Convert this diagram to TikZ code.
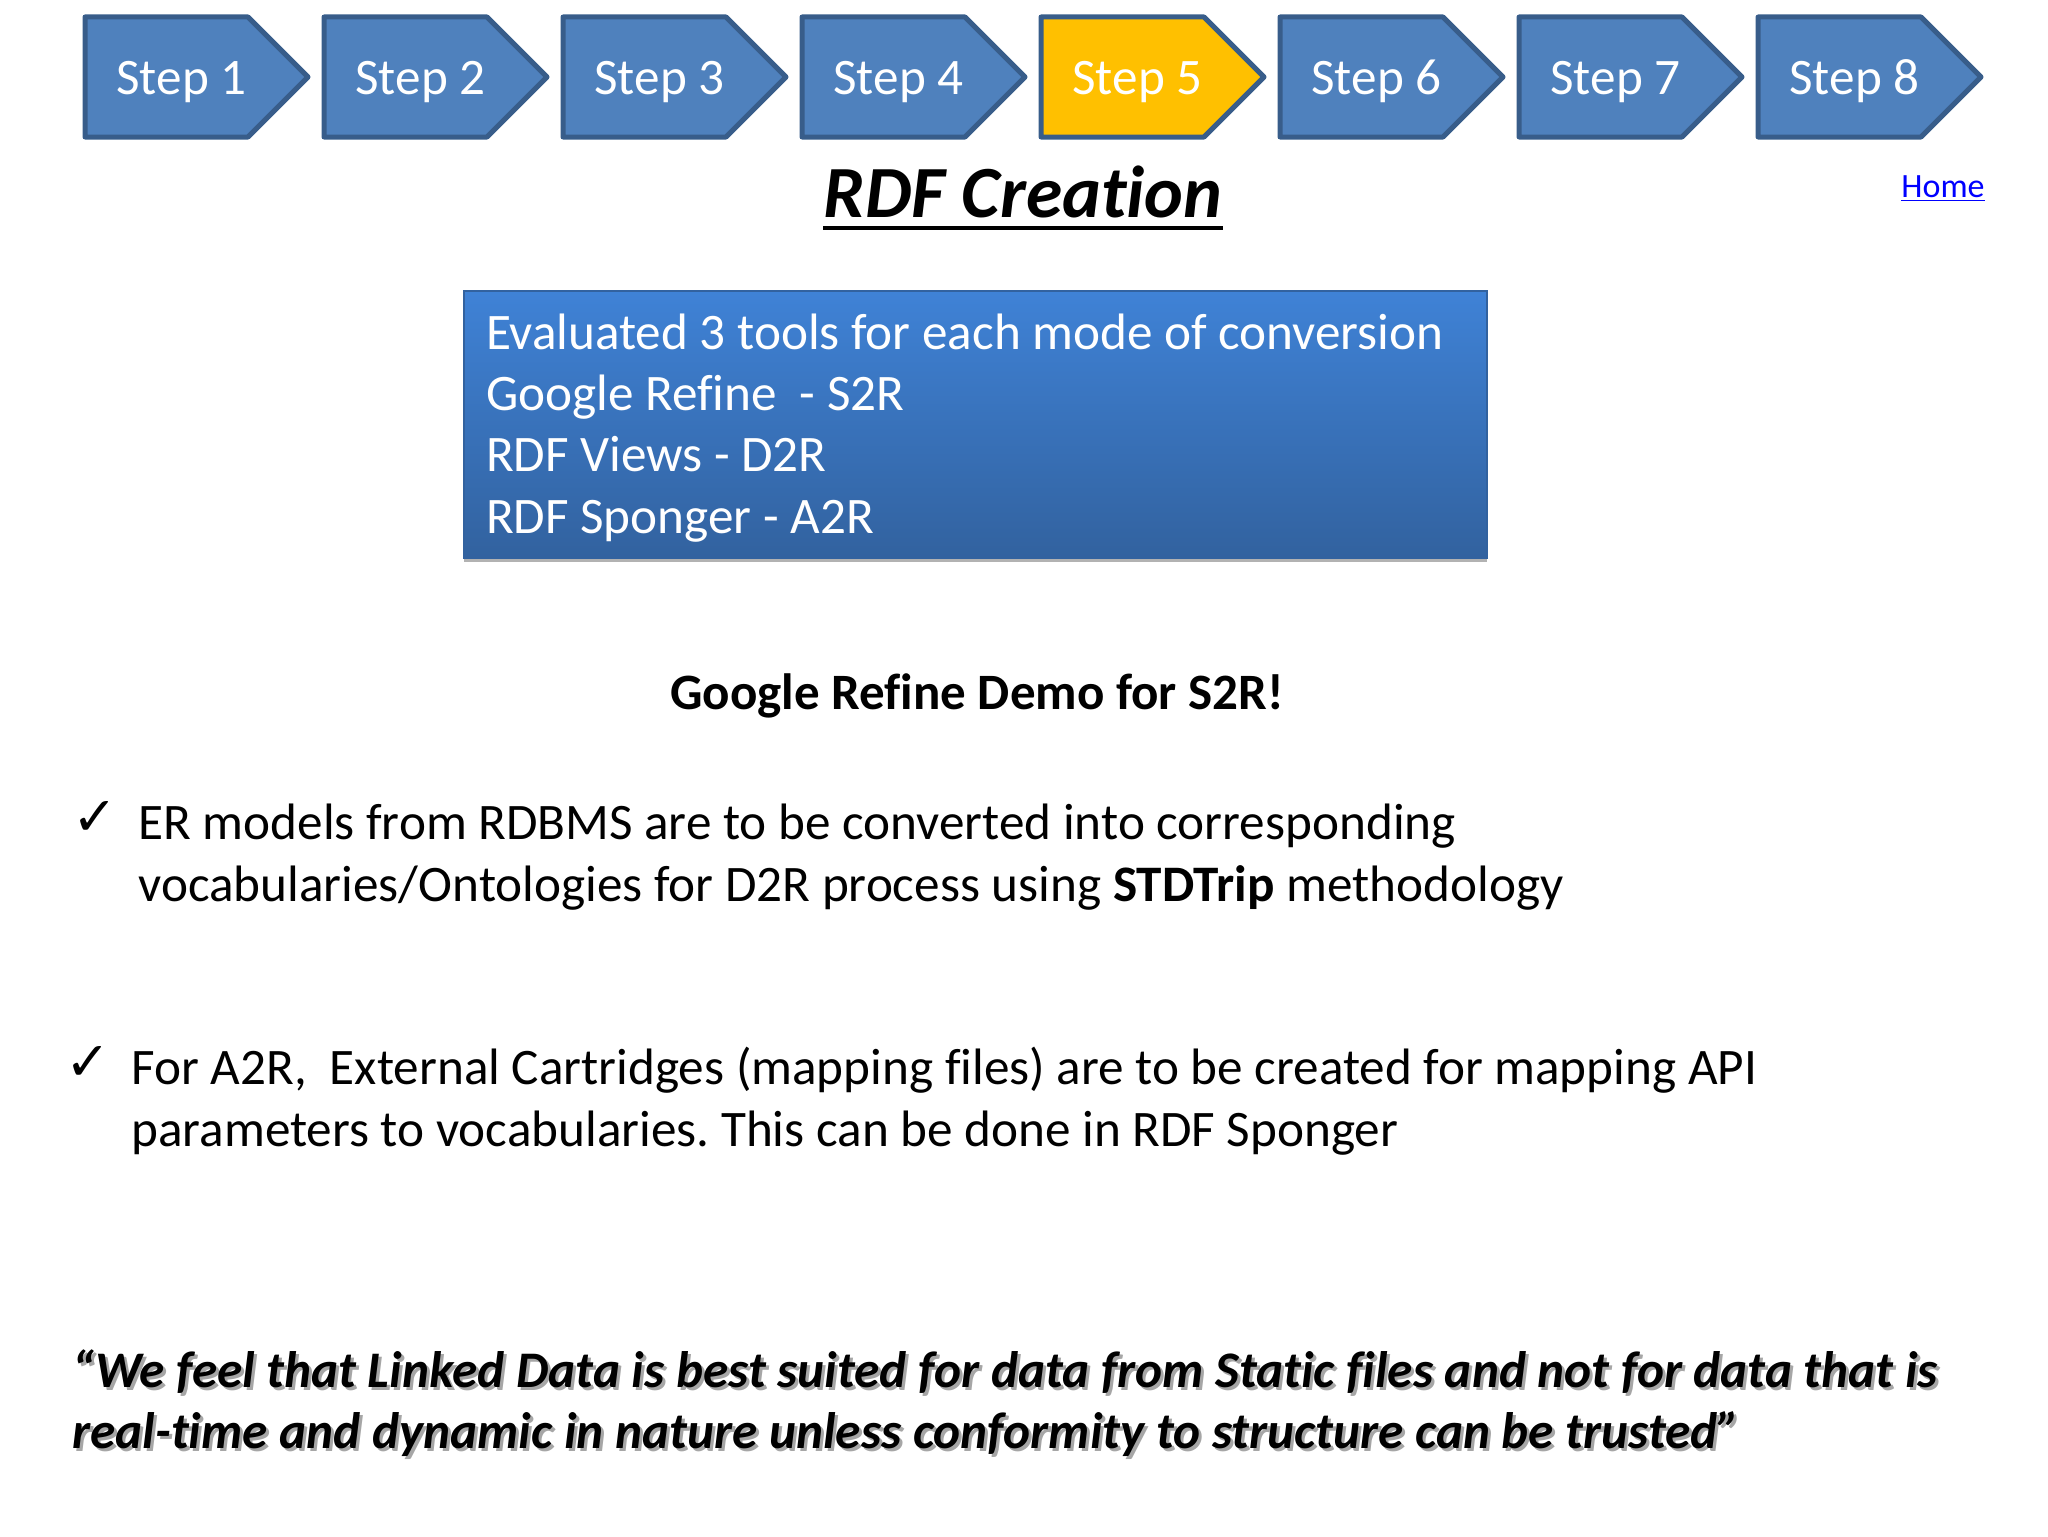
\documentclass[tikz,border=0pt]{standalone}
\usepackage{fontspec}
\setmainfont[Ligatures=CommonOff]{Carlito}
\newfontfamily\checkfont{DejaVu Sans}
\usetikzlibrary{shadows}
\definecolor{stepblue}{HTML}{4F81BD}
\definecolor{stepedge}{HTML}{385D8A}
\definecolor{stepgold}{HTML}{FFC000}
\definecolor{boxtop}{HTML}{3F82D6}
\definecolor{boxbottom}{HTML}{32629F}
\definecolor{linkblue}{HTML}{0000FF}
\frenchspacing
\tikzset{
	stepshape/.style={draw=stepedge,line width=2.5pt,line join=round},
	steptext/.style={text=white,font=\fontsize{25.6}{30}\selectfont,inner sep=0pt,anchor=base west},
	toolbox/.style={draw=boxbottom,line width=1pt,top color=boxtop,bottom color=boxbottom,text=white,
		font=\fontsize{25.6}{30.7}\selectfont,align=flush left,anchor=north west,text width=489.5pt,
		inner xsep=11pt,inner ysep=0pt,minimum width=511.5pt,minimum height=133.5pt,
		drop shadow={shadow xshift=0pt,shadow yshift=-2pt,opacity=.3,fill=black}},
	bodytext/.style={font=\fontsize{25.6}{30.7}\selectfont,align=left,anchor=north west,inner sep=0pt},
	checktext/.style={font=\checkfont\fontsize{27}{27}\selectfont,inner sep=0pt},
	quotetext/.style={font=\fontsize{25.65}{30.7}\selectfont\bfseries\itshape,align=left,anchor=north west,inner sep=0pt}
}
\begin{document}
\begin{tikzpicture}[x=.5pt,y=-.5pt]
	\useasboundingbox (0,0) rectangle (2048,1536) ;
	% step arrows along the top
	\foreach \i/\col in {1/stepblue,2/stepblue,3/stepblue,4/stepblue,5/stepgold,6/stepblue,7/stepblue,8/stepblue} {
		\draw[stepshape,fill=\col] ({85+239*(\i-1)},17) -- ++(163,0) -- ++(60,60) -- ++(-60,60) -- ++(-163,0) -- cycle ;
		\node[steptext] (step\i) at ({116+239*(\i-1)},95) {Step \i} ;
	}
	% title and link
	\node[inner sep=0pt,anchor=base,font=\fontsize{36.8}{44}\selectfont\bfseries\itshape] (title) at (1023,217) {RDF Creation} ;
	\draw[line width=2pt] ([yshift=-5.5pt]title.base west) -- ([yshift=-5.5pt]title.base east) ;
	\node[inner sep=0pt,anchor=base east,text=linkblue,font=\fontsize{17}{20}\selectfont] (home) at (1985,197) {\underline{Home}} ;
	% tools box
	\node[toolbox] (tools) at (463,290) {\rule{0pt}{21pt}Evaluated 3 tools for each mode of conversion\\Google Refine~~- S2R\\RDF Views - D2R\\RDF Sponger - A2R} ;
	\node[inner sep=0pt,anchor=base,font=\fontsize{25.5}{30}\selectfont\bfseries] (demo) at (977,709) {Google Refine Demo for S2R!} ;
	% bullet points
	\node[checktext] (checka) at (95,818) {✓} ;
	\node[bodytext] (pointa) at (138,804) {ER models from RDBMS are to be converted into corresponding\\vocabularies/Ontologies for D2R process using \textbf{STDTrip} methodology} ;
	\node[checktext] (checkb) at (88,1063) {✓} ;
	\node[bodytext] (pointb) at (131,1047) {For A2R,~~External Cartridges (mapping files) are to be created for mapping API\\parameters to vocabularies. This can be done in RDF Sponger} ;
	% quote, grey copy underneath gives the shadow
	\node[quotetext,text=black!35] (quoteshadow) at (75,1352) {“We feel that Linked Data is best suited for data from Static files and not for data that is\\real-time and dynamic in nature unless conformity to structure can be trusted”} ;
	\node[quotetext] (quote) at (72,1349) {“We feel that Linked Data is best suited for data from Static files and not for data that is\\real-time and dynamic in nature unless conformity to structure can be trusted”} ;
\end{tikzpicture}
\end{document}
